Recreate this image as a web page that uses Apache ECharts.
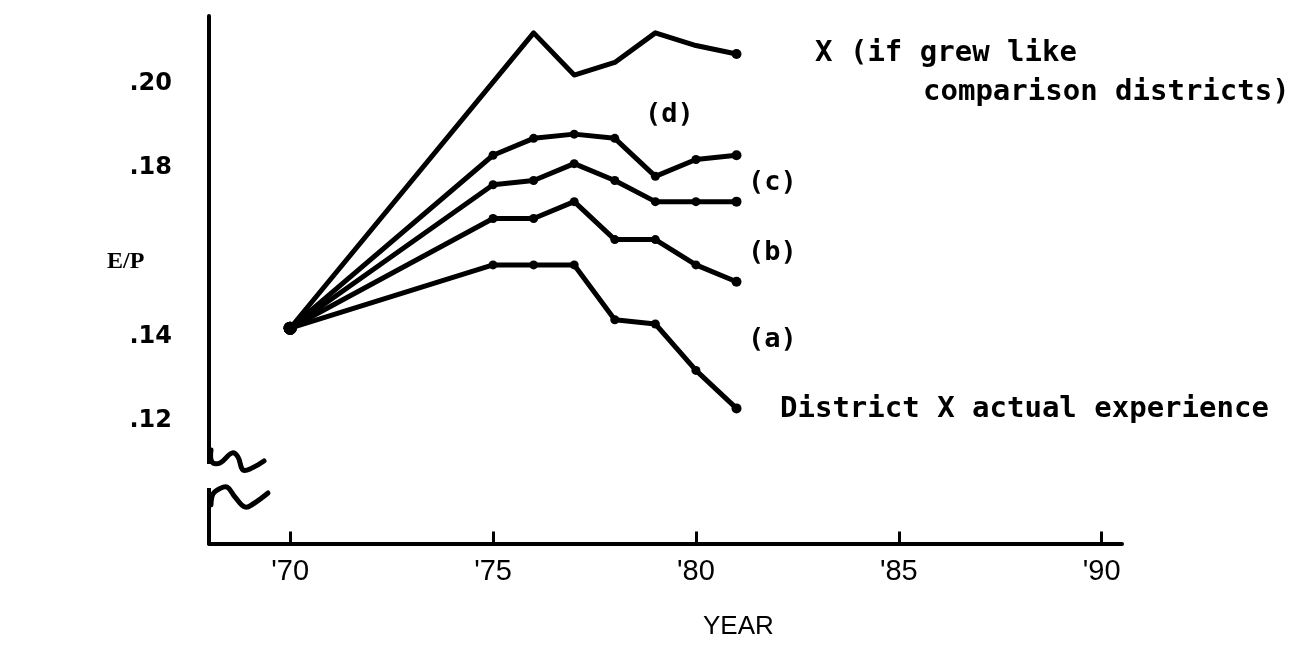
<!DOCTYPE html>
<html>
<head>
<meta charset="utf-8">
<script src="https://cdn.jsdelivr.net/npm/echarts@6/dist/echarts.min.js"></script>
<style>
html,body{margin:0;padding:0;background:#fff;}
#chart{width:1306px;height:668px;}
</style>
</head>
<body>
<div id="chart"></div>
<script>
// ---- data ----
const years = [70, 75, 76, 77, 78, 79, 80, 81];
const xTickValues = [70, 75, 80, 85, 90];
const yTickValues = [0.12, 0.14, 0.18, 0.20];
// X (if grew like comparison districts) - no mark at '75
const seriesTop = [0.142, null, 0.212, 0.202, 0.205, 0.212, 0.209, 0.207];
const seriesD   = [0.142, 0.183, 0.187, 0.188, 0.187, 0.178, 0.182, 0.183];
const seriesC   = [0.142, 0.176, 0.177, 0.181, 0.177, 0.172, 0.172, 0.172];
const seriesB   = [0.142, 0.168, 0.168, 0.172, 0.163, 0.163, 0.157, 0.153];
const seriesA   = [0.142, 0.157, 0.157, 0.157, 0.144, 0.143, 0.132, 0.123];

const chart = echarts.init(document.getElementById('chart'), null, {renderer: 'canvas'});

function pairs(vals) {
  const out = [];
  vals.forEach((v, i) => { if (v !== null) out.push([years[i], v]); });
  return out;
}

function lineSeries(name, vals, showInner) {
  const data = pairs(vals);
  const last = data.length - 1;
  return {
    name: name,
    type: 'line',
    data: data,
    symbol: 'circle',
    showAllSymbol: true,
    symbolSize: function (val, params) {
      if (params.dataIndex === 0) return 13;
      if (params.dataIndex === last) return 10;
      return showInner ? 9 : 0;
    },
    itemStyle: {color: '#000'},
    lineStyle: {color: '#000', width: 5, cap: 'round', join: 'round'},
    emphasis: {disabled: true},
    z: 3
  };
}

const monoBold = "'DejaVu Sans Mono', 'Liberation Mono', monospace";

const option = {
  backgroundColor: '#ffffff',
  animation: false,
  grid: {left: 209, right: 184, top: 16, bottom: 124.6},
  xAxis: {
    type: 'value',
    min: 68,
    max: 90.5,
    axisLine: {show: true, onZero: false, lineStyle: {color: '#000', width: 4}},
    axisTick: {show: true, inside: true, length: 12, customValues: xTickValues,
               lineStyle: {color: '#000', width: 3}},
    axisLabel: {show: true, customValues: xTickValues, margin: 14,
                formatter: v => "'" + v,
                color: '#000', fontSize: 29, fontFamily: "'Liberation Sans', Arial, sans-serif"},
    splitLine: {show: false}
  },
  yAxis: {
    type: 'value',
    min: 0.091,
    max: 0.216,
    axisLine: {show: true, lineStyle: {color: '#000', width: 4}},
    axisTick: {show: false},
    axisLabel: {show: true, customValues: yTickValues, margin: 37,
                formatter: v => '.' + Math.round(v * 100),
                color: '#000', fontSize: 24, fontWeight: 'bold',
                fontFamily: "'DejaVu Sans', sans-serif"},
    splitLine: {show: false}
  },
  series: [
    lineSeries('X (if grew like comparison districts)', seriesTop, false),
    lineSeries('(d)', seriesD, true),
    lineSeries('(c)', seriesC, true),
    lineSeries('(b)', seriesB, true),
    lineSeries('District X actual experience', seriesA, true)
  ],
  graphic: [
    // axis break
    {type: 'rect', z: 100, shape: {x: 203, y: 464, width: 14, height: 24}, style: {fill: '#fff'}},
    {type: 'polyline', z: 101, shape: {smooth: 0.4, points: [[211,450],[212,462],[220,463],[232,453],[238,457],[243,470],[252,468],[264,461]]},
     style: {stroke: '#000', lineWidth: 5, fill: null, lineCap: 'round'}},
    {type: 'polyline', z: 101, shape: {smooth: 0.4, points: [[211,505],[213,494],[219,489],[227,487],[235,497],[245,507],[253,504],[268,493]]},
     style: {stroke: '#000', lineWidth: 5, fill: null, lineCap: 'round'}},
    // axis names
    {type: 'text', z: 100, left: 107, top: 250,
     style: {text: 'E/P', fontSize: 24, fontWeight: 'bold', fontFamily: "'Liberation Serif', 'DejaVu Serif', serif", fill: '#000'}},
    {type: 'text', z: 100, left: 703, top: 614,
     style: {text: 'YEAR', fontSize: 26, fontFamily: "'Liberation Sans', Arial, sans-serif", fill: '#000'}},
    // line annotations
    {type: 'text', z: 100, x: 815, y: 53,
     style: {text: 'X (if grew like', fontSize: 29, fontWeight: 'bold', fontFamily: monoBold, fill: '#000', verticalAlign: 'middle'}},
    {type: 'text', z: 100, x: 923, y: 92,
     style: {text: 'comparison districts)', fontSize: 29, fontWeight: 'bold', fontFamily: monoBold, fill: '#000', verticalAlign: 'middle'}},
    {type: 'text', z: 100, x: 645, y: 115,
     style: {text: '(d)', fontSize: 27, fontWeight: 'bold', fontFamily: monoBold, fill: '#000', verticalAlign: 'middle'}},
    {type: 'text', z: 100, x: 748, y: 183,
     style: {text: '(c)', fontSize: 27, fontWeight: 'bold', fontFamily: monoBold, fill: '#000', verticalAlign: 'middle'}},
    {type: 'text', z: 100, x: 748, y: 253,
     style: {text: '(b)', fontSize: 27, fontWeight: 'bold', fontFamily: monoBold, fill: '#000', verticalAlign: 'middle'}},
    {type: 'text', z: 100, x: 748, y: 340,
     style: {text: '(a)', fontSize: 27, fontWeight: 'bold', fontFamily: monoBold, fill: '#000', verticalAlign: 'middle'}},
    {type: 'text', z: 100, x: 780, y: 409,
     style: {text: 'District X actual experience', fontSize: 29, fontWeight: 'bold', fontFamily: monoBold, fill: '#000', verticalAlign: 'middle'}}
  ]
};
chart.setOption(option);
</script>
</body>
</html>
